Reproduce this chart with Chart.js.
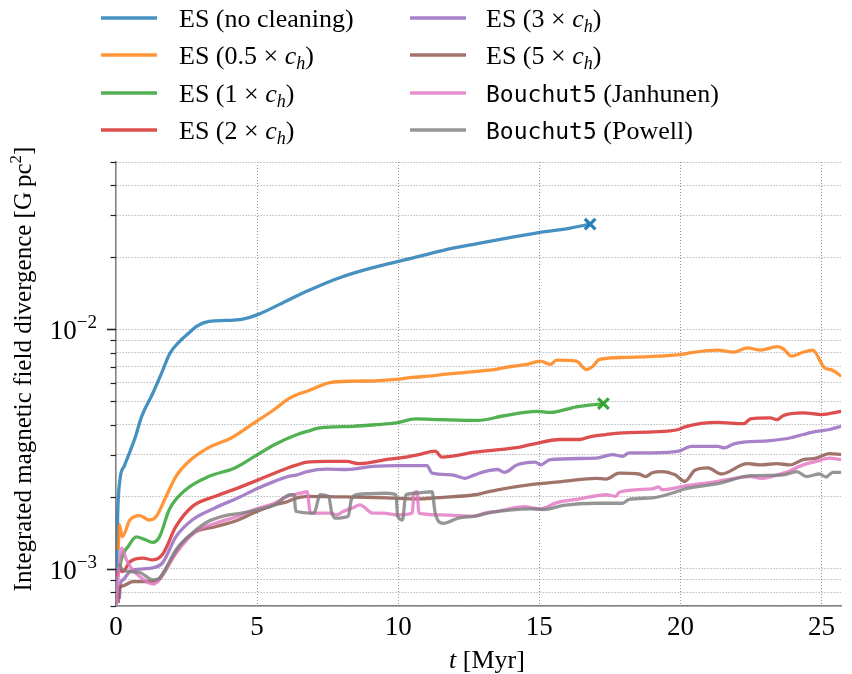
<!DOCTYPE html>
<html>
<head>
<meta charset="utf-8">
<script src="https://cdn.jsdelivr.net/npm/chart.js@4"></script>
<style>
  html, body { margin: 0; padding: 0; background: #fff; }
  #wrap { width: 852px; height: 674px; position: relative; }
</style>
</head>
<body>
<div id="wrap"><canvas id="divChart"></canvas></div>
<script>
// Axis ticks
const xTicks = [0, 5, 10, 15, 20, 25];
const yTicks = [7e-4, 8e-4, 9e-4, 1e-3, 2e-3, 3e-3, 4e-3, 5e-3, 6e-3, 7e-3, 8e-3, 9e-3,
                1e-2, 2e-2, 3e-2, 4e-2, 5e-2];

const seriesNames = ['ES (no cleaning)', 'ES (0.5 × c_h)', 'ES (1 × c_h)', 'ES (2 × c_h)',
                     'ES (3 × c_h)', 'ES (5 × c_h)', 'Bouchut5 (Janhunen)', 'Bouchut5 (Powell)'];
// runs that stopped early get an x at their last point
const crashed = [true, false, true, false, false, false, false, false];

// time [Myr] and integrated divergence [G pc^2] per run
const tNoClean = [0, 0.06, 0.14, 0.3, 0.5, 0.7, 0.9, 1.3, 1.6, 1.9, 2.25, 2.6, 2.85, 3.3, 3.9, 4.45, 5.0,
                  5.9, 6.8, 7.9, 9.1, 10.3, 11.6, 12.8, 14.0, 15.2, 16.1, 16.8];
const vNoClean = [0.00068, 0.0017, 0.00236, 0.0027, 0.0031, 0.0036, 0.0043, 0.0054, 0.0065, 0.0079, 0.0089,
                  0.0097, 0.0103, 0.0108, 0.0109, 0.0110, 0.0115, 0.0129, 0.0145, 0.0164, 0.0181, 0.0196,
                  0.0214, 0.0228, 0.0242, 0.0256, 0.0265, 0.0275];

const tHalf = [0.08, 0.12, 0.22, 0.49, 0.84, 1.19, 1.42, 1.77, 2.12, 2.58, 3.28, 4.1, 4.91, 5.61, 6.08, 6.42,
               6.77, 7.58, 8.41, 9.2, 9.92, 10.5, 11.07, 11.7, 12.24, 12.9, 13.41, 14.0, 14.56, 15.04, 15.39,
               15.61, 16.31, 16.66, 16.9, 17.13, 18.05, 19.24, 20.04, 20.39, 21.32, 21.89, 22.37, 22.84,
               23.42, 23.64, 23.94, 24.34, 24.69, 25.1, 25.38, 25.7];
const vHalf = [0.0012, 0.00153, 0.00136, 0.0016, 0.00167, 0.0016, 0.00165, 0.002, 0.00243, 0.00281, 0.00321,
               0.00353, 0.00408, 0.00463, 0.0051, 0.00535, 0.00552, 0.006, 0.00608, 0.0061, 0.00618, 0.0063,
               0.00638, 0.0065, 0.00659, 0.0067, 0.0068, 0.0070, 0.00714, 0.00737, 0.00714, 0.00744, 0.00737,
               0.0068, 0.00702, 0.00749, 0.00764, 0.00773, 0.00786, 0.008, 0.00819, 0.00803, 0.00838,
               0.00819, 0.00847, 0.0083, 0.00773, 0.00803, 0.00819, 0.00692, 0.00676, 0.00638];

const tOne = [0.12, 0.2, 0.45, 0.72, 1.0, 1.3, 1.54, 1.89, 2.47, 3.28, 4.21, 4.91, 5.61, 6.42, 6.77, 7.23, 8.4,
              9.2, 9.92, 10.61, 11.5, 12.81, 13.76, 14.91, 15.39, 16.31, 17.27];
const vOne = [0.00098, 0.00111, 0.00125, 0.00136, 0.00133, 0.00129, 0.00136, 0.00177, 0.00214, 0.00243,
              0.00264, 0.00295, 0.0033, 0.00364, 0.00375, 0.00388, 0.00394, 0.004, 0.00407, 0.00423, 0.0042,
              0.00417, 0.00436, 0.00455, 0.0045, 0.00475, 0.0049];

const tTwo = [0.05, 0.1, 0.24, 0.49, 0.95, 1.3, 1.65, 2.12, 2.7, 3.52, 4.33, 4.91, 5.61, 6.08, 6.42, 6.77, 7.47,
              8.17, 8.62, 9.57, 10.02, 10.72, 11.31, 11.55, 12.71, 14.11, 14.69, 15.74, 16.43, 16.78, 17.36,
              17.95, 19.0, 19.93, 20.16, 21.32, 22.24, 22.49, 23.18, 23.42, 23.65, 24.35, 24.99, 25.7];
const vTwo = [0.00093, 0.00099, 0.000975, 0.00107, 0.00111, 0.00109, 0.00115, 0.0015, 0.00182, 0.00201,
              0.00218, 0.00232, 0.00251, 0.00264, 0.00272, 0.00279, 0.00281, 0.00281, 0.00275, 0.00286, 0.0029,
              0.003, 0.0031, 0.00293, 0.00307, 0.0032, 0.0033, 0.00347, 0.00347, 0.00356, 0.00364, 0.0037,
              0.00373, 0.00382, 0.00392, 0.00409, 0.00404, 0.00423, 0.00427, 0.0042, 0.00437, 0.00448,
              0.00441, 0.00455];

const tThree = [0.12, 0.16, 0.25, 0.49, 0.95, 1.3, 1.65, 2.12, 2.7, 3.52, 4.33, 4.91, 5.61, 6.08, 6.42, 6.77,
                7.47, 8.17, 9.1, 10.03, 11.02, 11.2, 11.9, 12.36, 12.71, 13.06, 13.52, 13.76, 14.22, 14.86,
                15.04, 15.39, 17.01, 17.6, 17.95, 18.18, 19.0, 19.93, 20.39, 21.32, 21.55, 21.9, 23.18, 23.88,
                24.35, 24.81, 25.28, 25.7];
const vThree = [0.00075, 0.00087, 0.0009, 0.000975, 0.001, 0.00101, 0.00106, 0.00136, 0.0016, 0.0018,
                0.00198, 0.00214, 0.00232, 0.00243, 0.00247, 0.00255, 0.00261, 0.0026, 0.00268, 0.0027,
                0.0027, 0.00251, 0.00247, 0.00239, 0.00247, 0.00255, 0.0026, 0.00253, 0.00272, 0.00279,
                0.00272, 0.00286, 0.0029, 0.003, 0.00295, 0.00305, 0.00305, 0.0031, 0.00325, 0.00325,
                0.0032, 0.00333, 0.00343, 0.00352, 0.00364, 0.00375, 0.00382, 0.00394];

const tFive = [0.08, 0.12, 0.25, 0.6, 1.19, 1.48, 1.89, 2.35, 2.82, 3.52, 4.33, 4.91, 5.61, 6.08, 6.42, 6.77,
               7.82, 9.57, 10.73, 11.31, 12.71, 13.06, 13.52, 14.69, 15.85, 17.01, 17.36, 17.83, 18.53, 18.76,
               19.0, 19.34, 19.81, 20.16, 20.51, 20.97, 21.44, 22.37, 22.84, 23.42, 23.88, 24.35, 24.81,
               25.28, 25.7];
const vFive = [0.00072, 0.00083, 0.00085, 0.000885, 0.000885, 0.0009, 0.00106, 0.00128, 0.00143, 0.0015,
               0.0016, 0.00172, 0.00185, 0.00191, 0.00198, 0.00201, 0.002, 0.00198, 0.00196, 0.00198,
               0.00204, 0.00208, 0.00214, 0.00225, 0.00232, 0.00239, 0.00237, 0.00251, 0.00249, 0.00243,
               0.00252, 0.00255, 0.00247, 0.00232, 0.00258, 0.00264, 0.00249, 0.00275, 0.00272, 0.00275,
               0.00272, 0.00286, 0.0029, 0.00303, 0.003];

const tJanhunen = [0.0, 0.1, 0.2, 0.37, 0.59, 0.84, 1.3, 1.54, 2.12, 2.82, 3.52, 4.33, 4.91, 5.61, 6.08, 6.54,
                   6.77, 6.89, 7.59, 7.82, 8.06, 8.4, 8.64, 9.1, 9.45, 10.03, 10.5, 10.56, 10.67, 10.73,
                   11.55, 12.71, 13.06, 13.52, 14.46, 15.04, 15.62, 16.43, 17.36, 17.71, 17.83, 19.0, 19.23,
                   19.34, 20.16, 21.32, 21.9, 22.49, 22.84, 23.65, 24.35, 24.81, 25.28, 25.7];
const vJanhunen = [0.00068, 0.0010, 0.00122, 0.00109, 0.00099, 0.00093, 0.000865, 0.0009, 0.00116, 0.00143,
                   0.00155, 0.00166, 0.00177, 0.00188, 0.00201, 0.00207, 0.0021, 0.00171, 0.00171, 0.00168,
                   0.00174, 0.0018, 0.00185, 0.00171, 0.00171, 0.00168, 0.00171, 0.00207, 0.0021, 0.00171,
                   0.00168, 0.00166, 0.00171, 0.00174, 0.00182, 0.00178, 0.00189, 0.00196, 0.00204, 0.00201,
                   0.00209, 0.00216, 0.0022, 0.00214, 0.00222, 0.00232, 0.00239, 0.00243, 0.00239, 0.00251,
                   0.00272, 0.00281, 0.0029, 0.00286];

const tPowell = [0.1, 0.25, 0.84, 1.3, 1.54, 2.12, 2.7, 3.28, 3.87, 4.44, 5.03, 5.61, 6.19, 6.31, 6.37, 7.01,
                 7.24, 7.53, 7.65, 7.76, 8.23, 8.34, 8.52, 9.57, 9.92, 9.98, 10.15, 10.27, 10.61, 11.2, 11.31,
                 11.6, 12.13, 12.71, 13.29, 14.69, 15.15, 15.85, 17.01, 17.95, 18.18, 19.0, 19.69, 20.16,
                 21.32, 22.49, 23.65, 24.12, 24.46, 24.93, 25.16, 25.4, 25.7];
const vPowell = [0.00105, 0.00099, 0.000966, 0.0009, 0.000914, 0.0012, 0.00141, 0.00158, 0.00167, 0.00171,
                 0.00177, 0.00185, 0.00204, 0.00204, 0.00174, 0.00171, 0.00204, 0.00201, 0.00171, 0.00163,
                 0.00166, 0.00195, 0.00204, 0.00207, 0.00204, 0.00166, 0.0016, 0.00204, 0.00207, 0.0021,
                 0.00171, 0.00155, 0.00163, 0.00166, 0.00172, 0.00178, 0.00177, 0.00184, 0.00188, 0.00188,
                 0.00195, 0.00198, 0.00207, 0.00216, 0.00227, 0.00245, 0.00247, 0.00255, 0.00243, 0.00249,
                 0.00242, 0.00253, 0.00253];

const seriesT = [tNoClean, tHalf, tOne, tTwo, tThree, tFive, tJanhunen, tPowell];
const seriesV = [vNoClean, vHalf, vOne, vTwo, vThree, vFive, vJanhunen, vPowell];

// tab10 colours, slightly transparent
const seriesColors = ['rgba(31,119,180,0.82)', 'rgba(255,127,14,0.82)', 'rgba(44,160,44,0.82)',
                      'rgba(214,39,40,0.82)', 'rgba(148,103,189,0.82)', 'rgba(140,86,75,0.82)',
                      'rgba(227,119,194,0.82)', 'rgba(127,127,127,0.82)'];

const SERIF = '"Liberation Serif", "Times New Roman", serif';
const MONO = '"DejaVu Sans Mono", monospace';

const datasets = seriesNames.map((name, i) => {
    const pts = seriesT[i].map((t, k) => ({ x: t, y: seriesV[i][k] }));
    const last = pts.length - 1;
    return {
        label: name,
        data: pts,
        borderColor: seriesColors[i],
        backgroundColor: seriesColors[i],
        borderWidth: 3.3,
        cubicInterpolationMode: 'monotone',
        pointStyle: 'crossRot',
        pointRadius: ctx => (crashed[i] && ctx.dataIndex === last) ? 7.5 : 0,
        pointBorderWidth: 3.2,
        pointBorderColor: seriesColors[i].replace('0.82', '0.95'),
        order: -i // later runs sit on top
    };
});

// text made of differently styled pieces
function runsWidth(ctx, runs) {
    let w = 0;
    for (const r of runs) { ctx.font = r.font; w += ctx.measureText(r.text).width; }
    return w;
}
function drawRuns(ctx, runs, x, y, align) {
    const w = runsWidth(ctx, runs);
    const x0 = align === 'center' ? x - w / 2 : align === 'right' ? x - w : x;
    ctx.save();
    ctx.textAlign = 'left';
    ctx.textBaseline = 'alphabetic';
    ctx.fillStyle = '#000';
    let cx = x0;
    for (const r of runs) {
        ctx.font = r.font;
        ctx.fillText(r.text, cx, y + (r.dy || 0));
        cx += ctx.measureText(r.text).width;
    }
    ctx.restore();
}
function legendRuns(label) {
    const runs = [];
    for (const p of label.split(/(Bouchut5|c_h)/)) {
        if (!p) continue;
        if (p === 'Bouchut5') runs.push({ text: p, font: `23px ${MONO}` });
        else if (p === 'c_h') {
            runs.push({ text: 'c', font: `italic 26px ${SERIF}` });
            runs.push({ text: 'h', font: `italic 18px ${SERIF}`, dy: 5 });
        } else runs.push({ text: p, font: `26px ${SERIF}` });
    }
    return runs;
}

const decorations = {
    id: 'decorations',
    afterDraw(chart) {
        const ctx = chart.ctx;
        const xs = chart.scales.x, ys = chart.scales.y;
        const area = chart.chartArea;

        // y ticks: long ones at decades, short ones between
        ctx.save();
        ctx.strokeStyle = '#222';
        for (const v of yTicks) {
            const y = Math.round(ys.getPixelForValue(v)) + 0.5;
            const lg = Math.log10(v);
            const decade = Math.abs(lg - Math.round(lg)) < 1e-9;
            ctx.lineWidth = decade ? 1.6 : 1.2;
            ctx.beginPath();
            ctx.moveTo(area.left - (decade ? 9 : 5.5), y);
            ctx.lineTo(area.left, y);
            ctx.stroke();
            if (decade) {
                drawRuns(ctx, [
                    { text: '10', font: `27px ${SERIF}` },
                    { text: '\u2212' + Math.abs(Math.round(lg)), font: `19px ${SERIF}`, dy: -11 }
                ], 97, y + 9, 'right');
            }
        }
        ctx.restore();

        for (const v of xTicks) {
            drawRuns(ctx, [{ text: String(v), font: `27px ${SERIF}` }], xs.getPixelForValue(v), 635, 'center');
        }

        drawRuns(ctx, [
            { text: 't', font: `italic 26px ${SERIF}` },
            { text: ' [Myr]', font: `26px ${SERIF}` }
        ], 487, 668, 'center');

        ctx.save();
        ctx.translate(31, 369);
        ctx.rotate(-Math.PI / 2);
        drawRuns(ctx, [
            { text: 'Integrated magnetic field divergence [G\u2009pc', font: `25px ${SERIF}` },
            { text: '2', font: `17px ${SERIF}`, dy: -10 },
            { text: ']', font: `25px ${SERIF}` }
        ], 0, 0, 'center');
        ctx.restore();

        // legend in two columns of four
        const colLine = [101, 410], colText = [179, 486], rowY = [18, 55, 93, 130];
        seriesNames.forEach((name, i) => {
            const col = i < 4 ? 0 : 1, y = rowY[i % 4];
            ctx.save();
            ctx.strokeStyle = seriesColors[i];
            ctx.lineWidth = 3.6;
            ctx.beginPath();
            ctx.moveTo(colLine[col], y);
            ctx.lineTo(colLine[col] + 56, y);
            ctx.stroke();
            ctx.restore();
            drawRuns(ctx, legendRuns(name), colText[col], y + 9, 'left');
        });
    }
};

const chart = new Chart(document.getElementById('divChart').getContext('2d'), {
    type: 'line',
    data: { datasets },
    options: {
        responsive: true,
        maintainAspectRatio: false,
        animation: false,
        devicePixelRatio: 1,
        events: [],
        layout: { padding: { left: 116, right: 0, top: 162, bottom: 68 } },
        plugins: { legend: { display: false }, tooltip: { enabled: false } },
        scales: {
            x: {
                type: 'linear',
                min: 0,
                max: 25.7,
                afterBuildTicks: s => { s.ticks = xTicks.map(v => ({ value: v })); },
                ticks: { display: false },
                grid: {
                    drawTicks: false,
                    color: c => (c.tick && c.tick.value === 0) ? 'rgba(0,0,0,0)' : '#999',
                    lineWidth: 1
                },
                border: { display: true, color: '#808080', width: 1.6, dash: [1, 2] }
            },
            y: {
                type: 'logarithmic',
                min: 7e-4,
                max: 5e-2,
                afterBuildTicks: s => { s.ticks = yTicks.map(v => ({ value: v })); },
                ticks: { display: false },
                grid: { drawTicks: false, color: '#999', lineWidth: 1 },
                border: { display: true, color: '#808080', width: 1.6, dash: [1, 2] }
            }
        }
    },
    plugins: [decorations]
});
</script>
</body>
</html>
